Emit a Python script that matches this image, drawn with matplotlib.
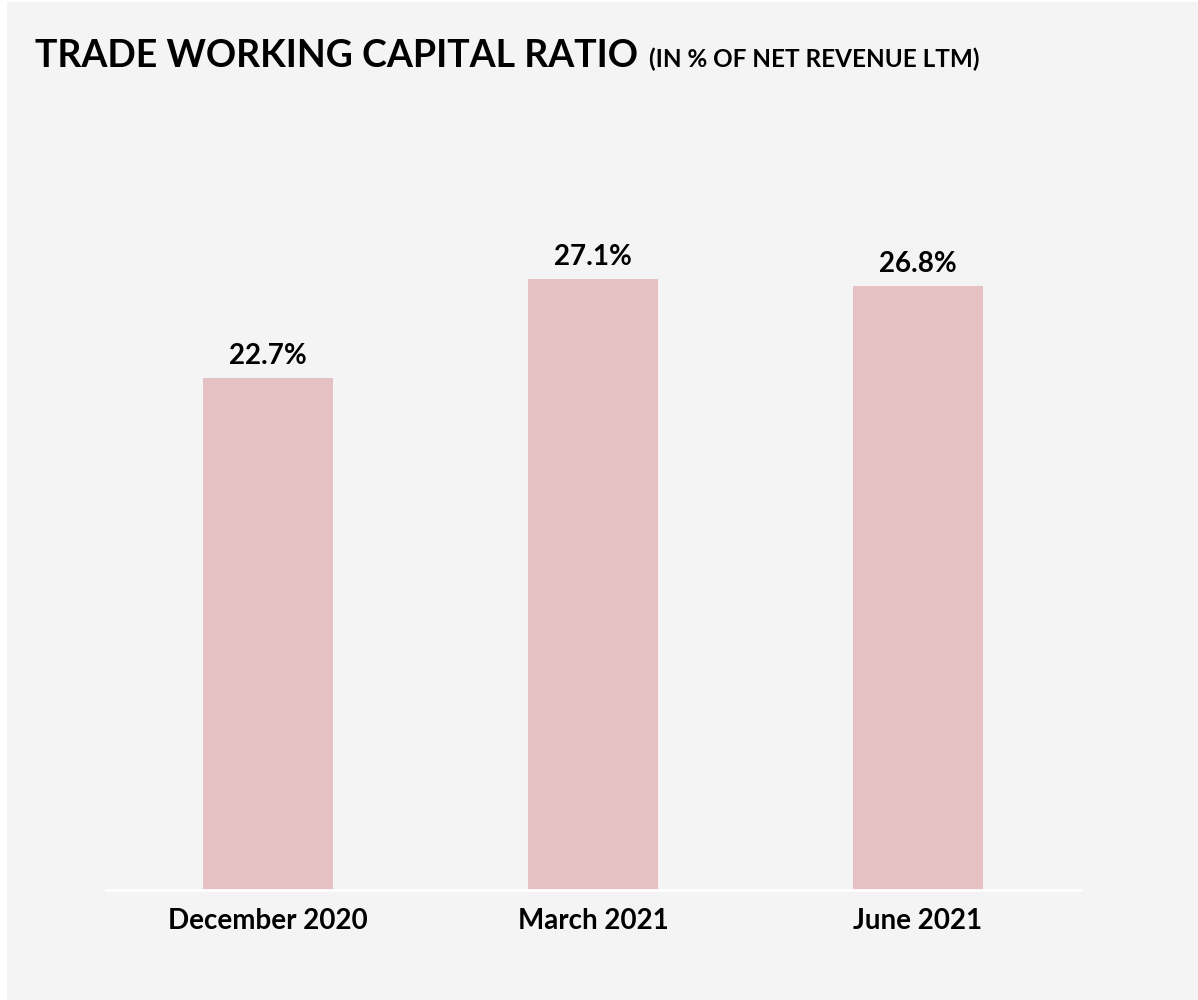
import matplotlib
matplotlib.use('Agg')
import matplotlib.pyplot as plt
from matplotlib.patches import Rectangle

plt.rcParams['font.family'] = ['Lato', 'DejaVu Sans']

periodos = ['December 2020', 'March 2021', 'June 2021']
ratio = [22.7, 27.1, 26.8]
rotulos = ['22.7%', '27.1%', '26.8%']

fundo = '#f4f4f4'
cor_barra = '#e6c1c4'

fig = plt.figure(figsize=(11.98, 10), dpi=100, facecolor='white')
# painel cinza (deixa uma borda branca fina a esquerda e no topo)
fig.patches.append(Rectangle((7 / 1198, 0), 1 - 7 / 1198, 1 - 2 / 1000,
                             transform=fig.transFigure, facecolor=fundo,
                             edgecolor='none', zorder=-10))

ax = fig.add_axes([106 / 1198, 110 / 1000, (1080 - 106) / 1198, (890 - 150) / 1000])
ax.set_facecolor('none')
x = range(len(periodos))
ax.bar(x, ratio, width=0.4, color=cor_barra, zorder=2)
for i in x:
    ax.text(i, ratio[i] + 0.4, rotulos[i], ha='center', va='bottom',
            fontsize=20, fontweight='bold', color='black')

ax.set_xlim(-0.5, 2.5)
ax.set_ylim(0, (890 - 150) / 22.55)
ax.set_xticks(list(x))
ax.set_xticklabels(periodos, fontsize=20, fontweight='bold')
ax.tick_params(axis='x', length=0, pad=13)
ax.set_yticks([])
for lado in ['left', 'right', 'top']:
    ax.spines[lado].set_visible(False)
ax.spines['bottom'].set_color('white')
ax.spines['bottom'].set_linewidth(2)
ax.spines['bottom'].set_zorder(3)

titulo = fig.text(35 / 1198, 1 - 67 / 1000, 'TRADE WORKING CAPITAL RATIO',
                  fontsize=27, fontweight='bold', color='black',
                  ha='left', va='baseline')
fig.canvas.draw()
bb = titulo.get_window_extent()
fig.text((bb.x1 + 11) / 1198, 1 - 67 / 1000, '(IN % OF NET REVENUE LTM)',
         fontsize=17.5, fontweight='bold', color='black', ha='left', va='baseline')

fig.savefig('out.png', dpi=100, facecolor=fig.get_facecolor())
